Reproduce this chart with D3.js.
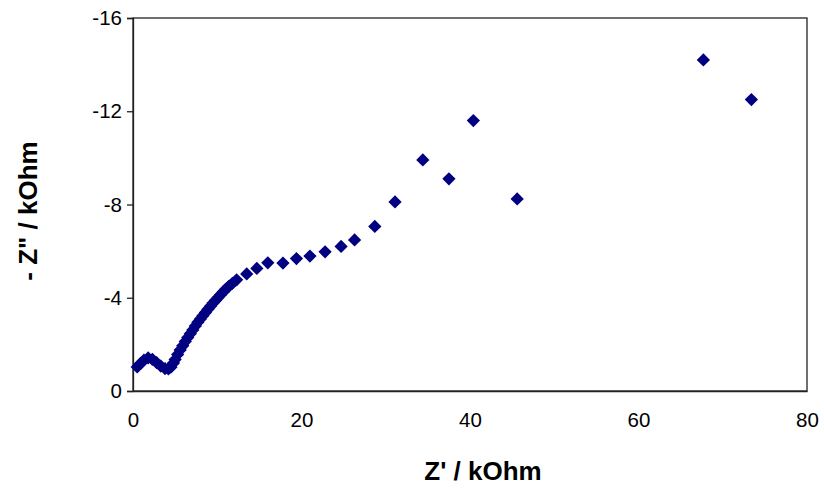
<!DOCTYPE html>
<html>
<head>
<meta charset="utf-8">
<script src="https://cdn.jsdelivr.net/npm/d3@7"></script>
<style>
  body { margin: 0; background: #fff; }
  text { font-family: "Liberation Sans", Arial, sans-serif; }
</style>
</head>
<body>
<div id="chart"></div>
<script>
// impedance data (kOhm)
var zReal = [0.5, 0.9, 1.3, 1.8, 2.3, 2.8, 3.3, 3.8, 4.2, 4.5, 4.8, 5.0, 5.3, 5.6, 5.9, 6.2, 6.5, 6.8,
  7.1, 7.4, 7.7, 8.0, 8.3, 8.6, 8.9, 9.2, 9.5, 9.8, 10.1, 10.4, 10.7, 11.0, 11.4, 11.8,
  12.3, 13.5, 14.7, 16.0, 17.8, 19.4, 21.0, 22.8, 24.7, 26.3, 28.7, 31.1, 34.4, 37.5, 40.4, 45.6, 67.7, 73.4];
var zImag = [-1.03, -1.18, -1.32, -1.42, -1.36, -1.22, -1.07, -0.96, -0.95, -1.02, -1.2, -1.35, -1.57, -1.76,
  -1.94, -2.12, -2.29, -2.46, -2.62, -2.79, -2.95, -3.09, -3.23, -3.37, -3.51, -3.64, -3.77, -3.89, -4.01,
  -4.13, -4.25, -4.36, -4.5, -4.62, -4.77, -5.02, -5.26, -5.5, -5.49, -5.68, -5.79, -5.97, -6.2, -6.48,
  -7.06, -8.11, -9.91, -9.1, -11.6, -8.24, -14.2, -12.5];
var xTicks = [0, 20, 40, 60, 80];
var yTicks = [0, -4, -8, -12, -16];

var svgWidth = 824, svgHeight = 492;
var margin = { top: 18, right: 17, bottom: 101, left: 133 };
var width = svgWidth - margin.left - margin.right;
var height = svgHeight - margin.top - margin.bottom;

var svg = d3.select("#chart").append("svg")
  .attr("width", svgWidth)
  .attr("height", svgHeight);

var chartGroup = svg.append("g")
  .attr("transform", `translate(${margin.left}, ${margin.top})`);

var xScale = d3.scaleLinear().domain([0, 80]).range([0, width]);
var yScale = d3.scaleLinear().domain([0, -16]).range([height, 0]);

// plot frame
chartGroup.append("rect")
  .attr("x", 0).attr("y", 0)
  .attr("width", width).attr("height", height)
  .attr("fill", "none")
  .attr("stroke", "#222")
  .attr("stroke-width", 1.3);

// axes
var leftAxis = d3.axisLeft(yScale).tickValues(yTicks).tickSize(6).tickPadding(5)
  .tickFormat(d => String(d));
var bottomAxis = d3.axisBottom(xScale).tickValues(xTicks).tickSize(0).tickPadding(21)
  .tickFormat(d => String(d));

var yAx = chartGroup.append("g").call(leftAxis);
var xAx = chartGroup.append("g").attr("transform", `translate(0, ${height})`).call(bottomAxis);

[yAx, xAx].forEach(function(ax) {
  ax.select(".domain").attr("stroke", "#222").attr("stroke-width", 1.3);
  ax.selectAll(".tick line").attr("stroke", "#222").attr("stroke-width", 1.3);
  ax.selectAll(".tick text")
    .attr("fill", "#000")
    .style("font-size", "20.5px")
    .style("font-family", "'Liberation Sans', Arial, sans-serif");
});

// points
var diamond = d3.symbol().type(d3.symbolDiamond2).size(112);
chartGroup.selectAll("path.pt")
  .data(zReal.map((x, i) => ({ x: x, y: zImag[i] })))
  .enter()
  .append("path")
  .attr("class", "pt")
  .attr("d", diamond)
  .attr("transform", d => `translate(${xScale(d.x)}, ${yScale(d.y)})`)
  .attr("fill", "#000080");

// axis titles
svg.append("text")
  .attr("transform", "translate(37, 211) rotate(-90)")
  .attr("text-anchor", "middle")
  .style("font-size", "26px")
  .style("font-weight", "bold")
  .text("- Z\" / kOhm");

svg.append("text")
  .attr("x", 483)
  .attr("y", 480)
  .attr("text-anchor", "middle")
  .style("font-size", "26px")
  .style("font-weight", "bold")
  .text("Z' / kOhm");
</script>
</body>
</html>
